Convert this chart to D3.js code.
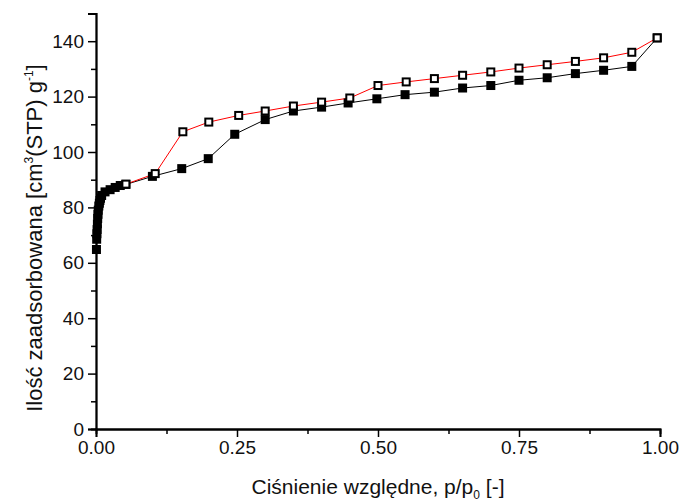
<!DOCTYPE html>
<html>
<head>
<meta charset="utf-8">
<script src="https://cdn.jsdelivr.net/npm/d3@7"></script>
<style>
  body { margin: 0; background: #fff; }
  svg { font-family: "Liberation Sans", Arial, sans-serif; }
</style>
</head>
<body>
<svg id="chart" width="685" height="502"></svg>
<script>
// Adsorpcja (pełne kwadraty)
const adsP = [0.0008, 0.0012, 0.0016, 0.002, 0.0025, 0.003, 0.0035, 0.004, 0.005, 0.006, 0.007, 0.008, 0.01,
  0.016, 0.025, 0.034, 0.043, 0.053, 0.10, 0.152, 0.199, 0.246, 0.30, 0.35, 0.40, 0.447, 0.498, 0.548, 0.60,
  0.65, 0.70, 0.75, 0.80, 0.85, 0.90, 0.95, 0.995];
const adsV = [64.8, 68.5, 70.5, 72, 74, 76, 77.5, 79, 80.5, 81.5, 82.5, 83.3, 84.3,
  85.6, 86.4, 87.2, 87.9, 88.3, 91.2, 94, 97.6, 106.4, 111.7, 114.8, 116.2, 117.7, 119.2, 120.7, 121.6,
  123.1, 124, 125.9, 126.8, 128.3, 129.5, 130.9, 141.2];

// Desorpcja (puste kwadraty)
const desP = [0.053, 0.105, 0.154, 0.20, 0.253, 0.30, 0.35, 0.40, 0.45, 0.50, 0.55, 0.60, 0.65,
  0.70, 0.75, 0.80, 0.85, 0.90, 0.95, 0.995];
const desV = [88.4, 92.2, 107.3, 110.8, 113.2, 114.8, 116.6, 118, 119.5, 124, 125.3, 126.5, 127.7,
  128.9, 130.3, 131.5, 132.7, 134, 136, 141.2];

const xTicks = [0, 0.25, 0.5, 0.75, 1.0];
const yTicks = [0, 20, 40, 60, 80, 100, 120, 140];

const svg = d3.select("#chart");

const x = d3.scaleLinear().domain([0, 1]).range([96, 660]);
const y = d3.scaleLinear().domain([0, 150]).range([429, 13.5]);

// Osie
const xAxis = svg.append("g")
  .attr("transform", `translate(0,${y(0)})`)
  .call(d3.axisBottom(x).tickValues(xTicks).tickFormat(d3.format(".2f")).tickSize(8).tickPadding(4));
const xMinor = svg.append("g")
  .attr("transform", `translate(0,${y(0)})`)
  .call(d3.axisBottom(x).tickValues([0.125, 0.375, 0.625, 0.875]).tickFormat("").tickSize(5));

const yAxis = svg.append("g")
  .attr("transform", `translate(${x(0)},0)`)
  .call(d3.axisLeft(y).tickValues(yTicks).tickSize(8).tickPadding(4));
const yMinor = svg.append("g")
  .attr("transform", `translate(${x(0)},0)`)
  .call(d3.axisLeft(y).tickValues([10, 30, 50, 70, 90, 110, 130, 150]).tickFormat("").tickSize(5));

[xAxis, xMinor, yAxis, yMinor].forEach(g => {
  g.selectAll("path, line").attr("stroke", "#000").attr("stroke-width", 1.5);
  g.select(".domain").attr("stroke-width", 1.8);
  g.selectAll("text").attr("font-size", 19).attr("fill", "#111")
    .attr("font-family", "Liberation Sans, Arial, sans-serif");
});

// Linie
const line = d3.line().x(d => x(d[0])).y(d => y(d[1]));
const ads = adsP.map((p, i) => [p, adsV[i]]);
const des = desP.map((p, i) => [p, desV[i]]);

svg.append("path").datum(ads).attr("d", line)
  .attr("fill", "none").attr("stroke", "#000").attr("stroke-width", 1);
svg.append("path").datum(des).attr("d", line)
  .attr("fill", "none").attr("stroke", "#ff0000").attr("stroke-width", 1);

const s = 9;
svg.append("g").selectAll("rect").data(ads).join("rect")
  .attr("x", d => x(d[0]) - s / 2).attr("y", d => y(d[1]) - s / 2)
  .attr("width", s).attr("height", s).attr("fill", "#000");

svg.append("g").selectAll("rect").data(des).join("rect")
  .attr("x", d => x(d[0]) - (s - 2) / 2).attr("y", d => y(d[1]) - (s - 2) / 2)
  .attr("width", s - 2).attr("height", s - 2)
  .attr("fill", "#fff").attr("stroke", "#000").attr("stroke-width", 2);

// Tytuły osi
const xt = svg.append("text")
  .attr("x", (x(0) + x(1)) / 2).attr("y", 494)
  .attr("text-anchor", "middle").attr("font-size", 21).attr("fill", "#111");
xt.append("tspan").text("Ciśnienie względne, p/p");
xt.append("tspan").attr("font-size", 12).attr("dy", 5).text("0");
xt.append("tspan").attr("dy", -5).text(" [-]");

const yt = svg.append("text")
  .attr("transform", `translate(42,238) rotate(-90)`)
  .attr("text-anchor", "middle").attr("font-size", 22).attr("fill", "#111");
yt.append("tspan").text("Ilość zaadsorbowana [cm");
yt.append("tspan").attr("font-size", 12).attr("dy", -9).text("3");
yt.append("tspan").attr("dy", 9).text("(STP) g");
yt.append("tspan").attr("font-size", 12).attr("dy", -9).text("-1");
yt.append("tspan").attr("dy", 9).text("]");
</script>
</body>
</html>
